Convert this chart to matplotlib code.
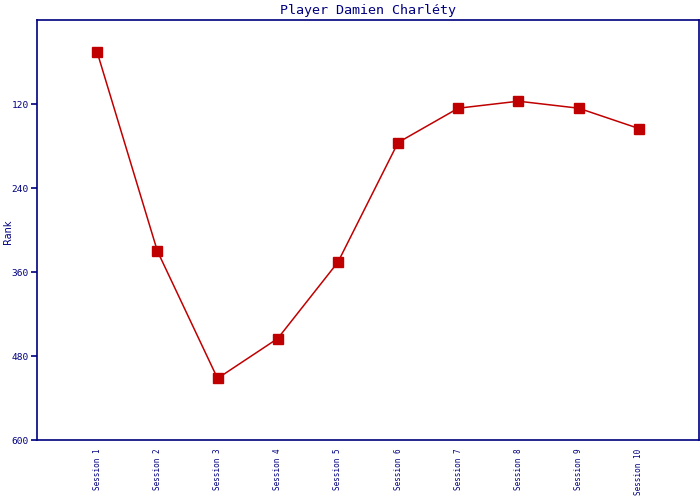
import matplotlib
matplotlib.use("Agg")
import matplotlib.pyplot as plt

NAVY = "#000080"
RED = "#c00000"

sessions = ["Session 1", "Session 2", "Session 3", "Session 4", "Session 5",
            "Session 6", "Session 7", "Session 8", "Session 9", "Session 10"]
ranks = [46, 330, 512, 455, 346, 175, 126, 116, 126, 155]
yticks = [120, 240, 360, 480, 600]

fig = plt.figure(figsize=(7, 5), dpi=100)
ax = fig.add_axes([37 / 700, 60 / 500, 662 / 700, 420 / 500])

xs = list(range(1, len(sessions) + 1))
ax.plot(xs, ranks, color=RED, lw=1.1, marker="s", ms=6.5, mfc=RED, mec=RED)

ax.set_xlim(0, len(sessions) + 1)
ax.set_ylim(600, 0)
ax.set_xticks(xs)
ax.set_xticklabels(sessions, rotation=90, fontsize=5.5, family="DejaVu Sans Mono", color=NAVY, va="top")
ax.set_yticks(yticks)
ax.set_yticklabels([str(v) for v in yticks], fontsize=6.8, family="DejaVu Sans Mono", color=NAVY)
ax.tick_params(axis="x", length=0, pad=6)
ax.tick_params(axis="y", length=4, width=1.2, color=NAVY, pad=2)

for s in ax.spines.values():
    s.set_color(NAVY)
    s.set_linewidth(1.2)

# y label sits at the very left edge in the reference
fig.text(8 / 700, 1 - 232 / 500, "Rank", rotation=90, fontsize=7, color=NAVY,
         ha="center", va="center")
ax.set_title("Player Damien Charléty", fontsize=9.6, family="DejaVu Sans Mono", color=NAVY, pad=4)

fig.savefig("out.png", dpi=100)
